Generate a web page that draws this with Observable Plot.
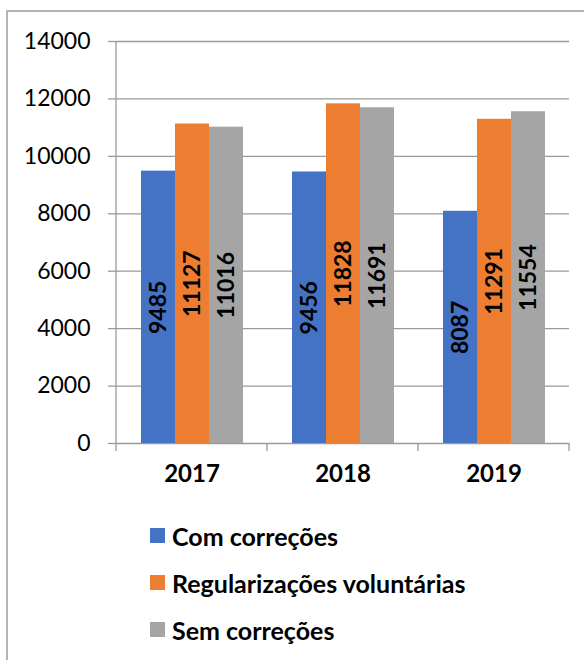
<!DOCTYPE html>
<html>
<head>
<meta charset="utf-8">
<script src="https://cdn.jsdelivr.net/npm/d3@7"></script>
<script src="https://cdn.jsdelivr.net/npm/@observablehq/plot@0.6"></script>
<style>
  html, body { margin: 0; padding: 0; background: #fff; overflow: hidden; }
  body { width: 584px; height: 660px; position: relative; font-family: Lato, "Open Sans", sans-serif; }
  #frame { position: absolute; left: 6px; top: 10px; width: 800px; height: 800px; border: 2px solid #b4b4b4; box-sizing: border-box; }
  #chart { position: absolute; left: 0; top: 0; }
  #legend { position: absolute; left: 150px; top: 512px; }
  .row { height: 47px; display: flex; align-items: center; font-weight: bold; font-size: 25px; color: #000; }
  .sw { width: 15px; height: 15px; margin-right: 7px; flex: none; }
</style>
</head>
<body>
<div id="frame"></div>
<div id="chart"></div>
<div id="legend"></div>
<script>
const years = ["2017", "2018", "2019"];
const series = ["Com correções", "Regularizações voluntárias", "Sem correções"];
const comCorrecoes = [9485, 9456, 8087];
const regularizacoes = [11127, 11828, 11291];
const semCorrecoes = [11016, 11691, 11554];
const colors = ["#4472c4", "#ed7d31", "#a5a5a5"];
const yTicks = [0, 2000, 4000, 6000, 8000, 10000, 12000, 14000];

const values = [comCorrecoes, regularizacoes, semCorrecoes];
const data = years.flatMap((year, i) =>
  series.map((s, j) => ({ year, series: s, value: values[j][i] }))
);

const gridColor = "#9a9a9a";

const plot = Plot.plot({
  width: 584,
  height: 500,
  marginTop: 41,
  marginBottom: 57,
  marginLeft: 116,
  marginRight: 15,
  style: { fontFamily: "Lato, 'Open Sans', sans-serif", color: "#000", background: "transparent" },
  fx: { domain: years, padding: 0, label: null, axis: null },
  x: { domain: series, paddingInner: 0, paddingOuter: 0.72, axis: null },
  y: { domain: [0, 14000], label: null },
  color: { domain: series, range: colors },
  marks: [
    Plot.ruleY(yTicks, { stroke: gridColor, strokeWidth: 1.3 }),
    Plot.axisY({ ticks: yTicks, tickSize: 8, tickPadding: 18, fontSize: 23, stroke: gridColor, strokeWidth: 1.3, label: null, tickFormat: d => String(d) }),
    Plot.barY(data, { fx: "year", x: "series", y: "value", fill: "series" }),
    Plot.text(data, { fx: "year", x: "series", y: d => d.value / 2, text: d => String(d.value), rotate: -90, fontSize: 23, fontWeight: "bold", fill: "#000" }),
    Plot.axisFx({ anchor: "bottom", tickSize: 0, tickPadding: 21, fontSize: 24, fontWeight: "bold", label: null })
  ]
});

document.getElementById("chart").appendChild(plot);

// y axis line and category boundary ticks from Plot's own scales
const fx = plot.scale("fx");
const y = plot.scale("y");
const svg = d3.select(plot);
const left = fx.apply(years[0]);
const bw = fx.bandwidth;
const y0 = y.apply(0), yTop = y.apply(14000);
svg.append("line").attr("x1", left).attr("x2", left).attr("y1", yTop).attr("y2", y0)
  .attr("stroke", gridColor).attr("stroke-width", 1.3);
const bounds = years.map(yr => fx.apply(yr)).concat([fx.apply(years[years.length - 1]) + bw]);
bounds.forEach(b => {
  svg.append("line").attr("x1", b).attr("x2", b).attr("y1", y0).attr("y2", y0 + 8)
    .attr("stroke", gridColor).attr("stroke-width", 1.3);
});

const legend = document.getElementById("legend");
series.forEach((s, j) => {
  const row = document.createElement("div");
  row.className = "row";
  const sw = document.createElement("span");
  sw.className = "sw";
  sw.style.background = colors[j];
  const t = document.createElement("span");
  t.textContent = s;
  row.appendChild(sw);
  row.appendChild(t);
  legend.appendChild(row);
});
</script>
</body>
</html>
